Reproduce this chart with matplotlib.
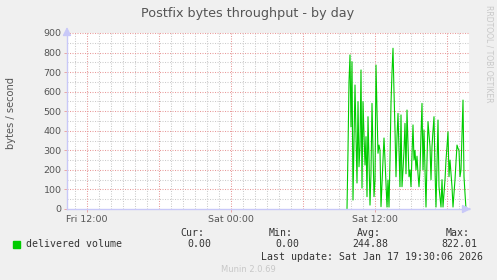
import matplotlib
matplotlib.use("Agg")
import matplotlib.pyplot as plt
import numpy as np

# data: hours relative to Sat 00:00, one sample every 5 minutes starting Sat 09:40
start_hour = 9 + 40 / 60
volume = [0, 300, 650, 788, 420, 753, 46, 350, 634, 380,
          133, 549, 216, 319, 711, 107, 549, 380, 225, 370,
          63, 472, 250, 20, 184, 540, 300, 63, 148, 736,
          500, 285, 327, 300, 12, 130, 250, 363, 250, 130,
          10, 148, 10, 250, 540, 700, 822, 600, 404, 165,
          370, 489, 300, 114, 481, 114, 200, 300, 438, 180,
          506, 330, 165, 200, 114, 280, 430, 250, 300, 200,
          270, 180, 114, 200, 380, 540, 200, 404, 200, 10,
          250, 447, 380, 319, 150, 320, 400, 472, 200, 10,
          230, 455, 114, 60, 10, 150, 10, 80, 150, 250,
          320, 395, 165, 250, 180, 114, 10, 80, 150, 240,
          327, 310, 300, 165, 200, 380, 557, 165, 80, 0]
tick_pos = [-12, 0, 12]
tick_labels = ["Fri 12:00", "Sat 00:00", "Sat 12:00"]
y_ticks = list(range(0, 1000, 100))

hours = start_hour + np.arange(len(volume)) / 12.0

W, H = 497, 280
fig = plt.figure(figsize=(W / 100, H / 100), dpi=100, facecolor="#F0F0F0")
ax = fig.add_axes([67 / W, 1 - 209 / H, 402 / W, 176 / H], facecolor="white")

xmin, xmax = (67 - 231) / 12, (469 - 231) / 12
ax.set_xlim(xmin, xmax)
ax.set_ylim(0, 900)

# grid: minor gray every hour / 50, major red every 6h / 100
dots = (0, (1.0, 1.4))
for h in np.arange(np.ceil(xmin), xmax, 1):
    if h % 6 == 0:
        continue
    ax.axvline(h, color="#CCCCCC", lw=0.75, ls=dots, zorder=1)
for v in range(50, 900, 100):
    ax.axhline(v, color="#CCCCCC", lw=0.75, ls=dots, zorder=1)
for h in np.arange(-12, xmax, 6):
    ax.axvline(h, color="#E89A9A", lw=0.75, ls=dots, zorder=1)
for v in range(100, 1000, 100):
    ax.axhline(v, color="#E89A9A", lw=0.75, ls=dots, zorder=1, clip_on=False)

ax.plot(hours, volume, color="#00CC00", lw=0.8, zorder=3)

for s in ax.spines.values():
    s.set_visible(False)
ax.axhline(0, color="#C8C8F8", lw=1, zorder=4, clip_on=False)
ax.axvline(xmin, color="#C8C8F8", lw=1, zorder=4, clip_on=False)
ax.annotate("", xy=(xmax + 0.4, 0), xytext=(xmax - 0.2, 0),
            arrowprops=dict(arrowstyle="-|>,head_length=0.5,head_width=0.25",
                            color="#C8C8F8", lw=1), annotation_clip=False)
ax.annotate("", xy=(xmin, 945), xytext=(xmin, 890),
            arrowprops=dict(arrowstyle="-|>,head_length=0.5,head_width=0.25",
                            color="#C8C8F8", lw=1), annotation_clip=False)

ax.set_xticks(tick_pos)
ax.set_xticklabels(tick_labels)
ax.set_yticks(y_ticks)
ax.tick_params(axis="both", labelsize=6.8, colors="#555555", length=2, width=0.6, pad=2)
ax.tick_params(axis="both", color="#E89A9A")

fig.text(248 / W, 1 - 13 / H, "Postfix bytes throughput - by day", ha="center",
         va="center", fontsize=9.2, color="#555555")
fig.text(11 / W, 1 - 113 / H, "bytes / second", rotation=90, ha="center",
         va="center", fontsize=7.1, color="#555555")
fig.text(489 / W, 1 - 5 / H, "RRDTOOL / TOBI OETIKER", rotation=-90, ha="center",
         va="top", fontsize=5.5, color="#C8C8C8")

mono = dict(family="DejaVu Sans Mono", fontsize=7.1, color="#333333", va="center")
fig.patches.append(plt.Rectangle((13 / W, 1 - 248 / H), 7 / W, 7 / H,
                                 transform=fig.transFigure, color="#00CC00"))
fig.text(26 / W, 1 - 244 / H, "delivered volume", ha="left", **mono)
for x_head, x_val, head, val in [(204, 211, "Cur:", "0.00"), (293, 299.5, "Min:", "0.00"),
                                  (381, 388, "Avg:", "244.88"), (470, 477, "Max:", "822.01")]:
    fig.text(x_head / W, 1 - 232.5 / H, head, ha="right", **mono)
    fig.text(x_val / W, 1 - 244 / H, val, ha="right", **mono)
fig.text(483 / W, 1 - 256.5 / H, "Last update: Sat Jan 17 19:30:06 2026", ha="right", **mono)
fig.text(248 / W, 1 - 269 / H, "Munin 2.0.69", ha="center", va="center",
         fontsize=6, color="#C8C8C8")

fig.savefig("out.png", dpi=100, facecolor=fig.get_facecolor())
